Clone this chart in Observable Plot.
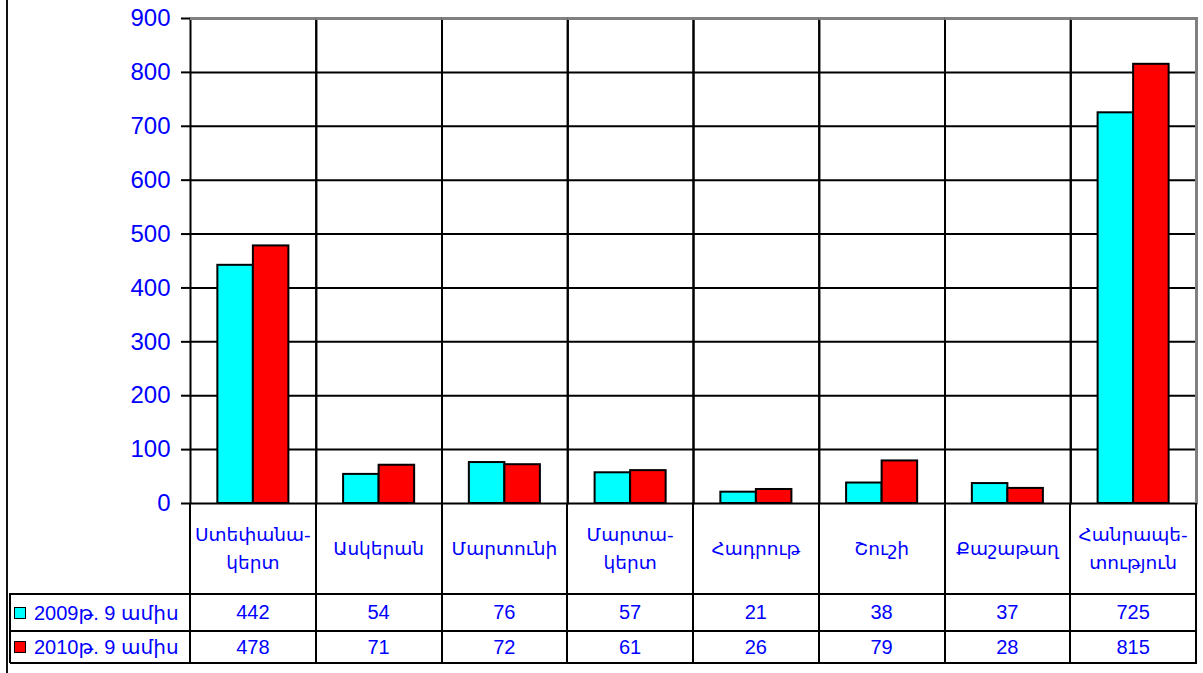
<!DOCTYPE html>
<html><head><meta charset="utf-8">
<script src="https://cdn.jsdelivr.net/npm/d3@7"></script>
<script src="https://cdn.jsdelivr.net/npm/@observablehq/plot@0.6"></script>
<style>
body{margin:0;background:#fff;}
#wrap{position:relative;width:1203px;height:673px;overflow:hidden;background:#fff;font-family:"Liberation Sans",Arial,"DejaVu Sans",sans-serif;color:#0000ff;}
#wrap svg{position:absolute;left:0;top:0;overflow:visible;}
.cell{position:absolute;display:flex;align-items:center;justify-content:center;text-align:center;white-space:pre-line;}
</style></head><body><div id="wrap"></div>
<script>
const categories = ["Ստեփանա-\nկերտ","Ասկերան","Մարտունի","Մարտա-\nկերտ","Հադրութ","Շուշի","Քաշաթաղ","Հանրապե-\nտություն"];
const seriesNames = ["2009թ. 9 ամիս","2010թ. 9 ամիս"];
const values2009 = [442,54,76,57,21,38,37,725];
const values2010 = [478,71,72,61,26,79,28,815];
const seriesColors = ["#00ffff","#ff0000"];
const yTicks = [0,100,200,300,400,500,600,700,800,900];

const seriesValues = [values2009, values2010];
const rows = categories.flatMap((c,i)=>seriesNames.map((s,j)=>({cat:c, s, v:seriesValues[j][i]})));

const plot = Plot.plot({
  width:1203, height:505,
  marginLeft:190, marginRight:7, marginTop:18, marginBottom:2,
  fx:{domain:categories, padding:0, round:false, axis:null},
  x:{domain:seriesNames, paddingInner:0, paddingOuter:0.77, round:false, axis:null},
  y:{domain:[0,900], axis:null},
  color:{domain:seriesNames, range:seriesColors},
  style:{fontFamily:'"Liberation Sans",Arial,sans-serif', background:"transparent", overflow:"visible"},
  marks:[
    Plot.ruleY(yTicks.slice(1,-1), {stroke:"#000", strokeWidth:2}),
    Plot.frame({stroke:"#000", strokeWidth:2}),
    Plot.ruleY([900], {stroke:"#808080", strokeWidth:3}),
    Plot.barY(rows, {fx:"cat", x:"s", y:"v", fill:"s", stroke:"#000", strokeWidth:2}),
    Plot.axisY({ticks:yTicks, label:null, tickSize:9, tickPadding:11, stroke:"#000", strokeWidth:2, fill:"#0000ff", fontSize:24})
  ]
});
const wrap = document.getElementById("wrap");
wrap.appendChild(plot);

const fxs = plot.scale("fx");
const fx = d3.scaleBand().domain(fxs.domain).range(fxs.range).padding(0);
const ys = plot.scale("y");
const yScale = d3.scaleLinear().domain(ys.domain).range(ys.range);
const top0 = yScale(0);
const rightEdge = fx.range()[1];
const leftEdge = fx.range()[0];
const rowB = [top0, 594, 631, 663];
const tableLeft = 10;

function box(l,t,w,h,bg){const d=document.createElement("div");d.style.cssText=`position:absolute;left:${l}px;top:${t}px;width:${w}px;height:${h}px;background:${bg}`;wrap.appendChild(d);return d;}
function cell(l,t,w,h,txt,fs,extra=""){const d=document.createElement("div");d.className="cell";d.style.cssText+=`left:${l}px;top:${t}px;width:${w}px;height:${h}px;font-size:${fs}px;${extra}`;d.textContent=txt;wrap.appendChild(d);return d;}

// outer left frame
box(6,0,2,673,"#111");
// gray right plot border
box(rightEdge-1,yScale(900)-1,3,top0-yScale(900)+1,"#808080");

// category labels row and value rows
categories.forEach((c,i)=>{
  const l=fx(c), w=fx.bandwidth();
  cell(l,rowB[0],w,rowB[1]-rowB[0],c,18.5,'line-height:28px;font-family:"DejaVu Sans",sans-serif;');
  cell(l,rowB[1],w,rowB[2]-rowB[1],String(values2009[i]),20);
  cell(l,rowB[2],w,rowB[3]-rowB[2],String(values2010[i]),20);
});
// legend column
seriesNames.forEach((s,j)=>{
  const t=rowB[1+j], h=rowB[2+j]-rowB[1+j];
  const d=cell(tableLeft,t,leftEdge-tableLeft,h,"",20,"justify-content:flex-start;");
  const sw=document.createElement("span");
  sw.style.cssText=`display:inline-block;width:10px;height:10px;border:1.5px solid #000;background:${seriesColors[j]};margin-left:4px;margin-right:8px;`;
  const tx=document.createElement("span");tx.textContent=s;
  d.appendChild(sw);d.appendChild(tx);
});
// table grid lines
fx.domain().forEach(c=>box(fx(c)-1,rowB[0],2,rowB[3]-rowB[0]+1,"#000"));
box(rightEdge-1,rowB[0],2,rowB[3]-rowB[0]+1,"#000");
box(tableLeft,rowB[1]-1,rightEdge-tableLeft,2,"#000");
box(tableLeft,rowB[2]-1,rightEdge-tableLeft,2,"#000");
box(tableLeft,rowB[3]-1,rightEdge-tableLeft+1,2,"#000");
box(tableLeft-1,rowB[1]-1,2,rowB[3]-rowB[1]+1,"#000");
</script></body></html>
